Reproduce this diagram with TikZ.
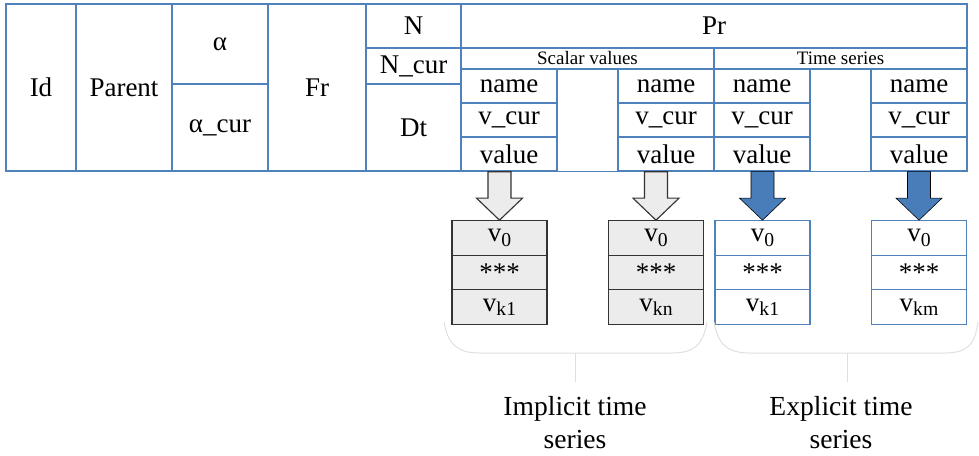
\documentclass[tikz,border=0pt]{standalone}
\usepackage{fontspec}
\setmainfont{Liberation Serif}
\usetikzlibrary{calc}
\definecolor{tblue}{RGB}{79,129,189}
\definecolor{arrblue}{RGB}{72,125,186}
\newcommand{\vsub}[1]{v\raisebox{-0.35ex}{\fontsize{14}{14}\selectfont #1}}

\begin{document}
\begin{tikzpicture}[
        x=0.025cm, y=-0.025cm,
        cell/.style={draw=tblue, line width=1pt, inner sep=0pt,
        font=\fontsize{19.2}{22}\selectfont},
        fld/.style={cell, minimum width=2.4cm, minimum height=0.85cm},
        sub/.style={cell, minimum height=0.525cm, font=\fontsize{13.5}{15}\selectfont},
        gbox/.style={draw=black!80, fill=gray!15, line width=0.9pt, inner sep=0pt,
        minimum width=2.375cm, minimum height=0.86cm, font=\fontsize{19.2}{22}\selectfont},
        bbox/.style={gbox, draw=tblue, fill=white},
        garr/.style={draw=black!80, fill=gray!15, line width=0.8pt},
        barr/.style={fill=arrblue},
        brace/.style={draw=gray!25, line width=0.7pt},
        lbl/.style={align=center, font=\fontsize{19.6}{23.5}\selectfont}
      ]
      \useasboundingbox (0,0) rectangle (979,455);

      % Table head
      \node[cell, minimum width=1.75cm, minimum height=4.175cm] (id) at (41, 87.5) {Id};
      \node[cell, minimum width=2.4cm, minimum height=4.175cm] (parent) at (124, 87.5) {Parent};
      \node[cell, minimum width=2.4cm, minimum height=2cm] (alpha) at (220, 44) {α};
      \node[cell, minimum width=2.4cm, minimum height=2.175cm] (alphacur) at (220, 127.5) {α\_cur};
      \node[cell, minimum width=2.45cm, minimum height=4.175cm] (fr) at (317, 87.5) {Fr};
      \node[cell, minimum width=2.375cm, minimum height=1.1cm] (n) at (413.5, 26) {N};
      \node[cell, minimum width=2.375cm, minimum height=0.9cm] (ncur) at (413.5, 66) {N\_cur};
      \node[cell, minimum width=2.375cm, minimum height=2.175cm] (dt) at (413.5, 127.5) {Dt};
      \node[cell, minimum width=12.65cm, minimum height=1.1cm] (pr) at (714, 26) {Pr};
      \node[sub, minimum width=6.325cm] (scalar) at (587.5, 58.5) {Scalar values};
      \node[sub, minimum width=6.325cm] (tseries) at (840.5, 58.5) {Time series};

      % Property fields
      \foreach \c/\x in {s1/509, s2/666, t1/762, t2/919} {
        \node[fld] (\c-name) at (\x, 86) {name};
        \node[fld] (\c-cur) at (\x, 120) {v\_cur};
        \node[fld] (\c-val) at (\x, 154) {value};
      }
      \draw[tblue, line width=1pt] (id.north west) rectangle (pr.east |- id.south);

      % Value boxes
      \foreach \c/\x/\k/\sty in {g1/499.5/k1/gbox, g2/656/kn/gbox, b1/762.5/k1/bbox, b2/919/km/bbox} {
        \node[\sty] (\c-a) at (\x, 238) {\vsub{0}};
        \node[\sty] (\c-b) at (\x, 272.5) {***};
        \node[\sty] (\c-c) at (\x, 307) {\vsub{\k}};
      }

      % Block arrows
      \foreach \src/\dst/\sty in {s1-val/g1-a/garr, s2-val/g2-a/garr, t1-val/b1-a/barr, t2-val/b2-a/barr}
        \draw[\sty] ($(\dst.north |- \src.south)+(-11.5,0)$) -- ++(23,0)
          -- ($(\dst.north)+(11.5,-22)$) -- ++(11.5,0) -- (\dst.north)
          -- ++(-23,-22) -- ++(11.5,0) -- cycle;

      % Braces
      \coordinate (lb) at (575, 353);
      \coordinate (rb) at (847, 353);
      \draw[brace] (444, 322) .. controls (448, 345) and (458, 353) .. (480, 353)
        -- (672, 353) .. controls (694, 353) and (703, 345) .. (707, 322);
      \draw[brace] (714, 322) .. controls (718, 345) and (728, 353) .. (750, 353)
        -- (945, 353) .. controls (967, 353) and (975, 345) .. (978, 322);
      \node[lbl] (impl) at (575, 423) {Implicit time\\series};
      \node[lbl] (expl) at (841, 423) {Explicit time\\series};
      \draw[brace] (lb) -- (impl.north |- 0,382);
      \draw[brace] (rb) -- (rb |- 0,382);
    \end{tikzpicture}
\end{document}
